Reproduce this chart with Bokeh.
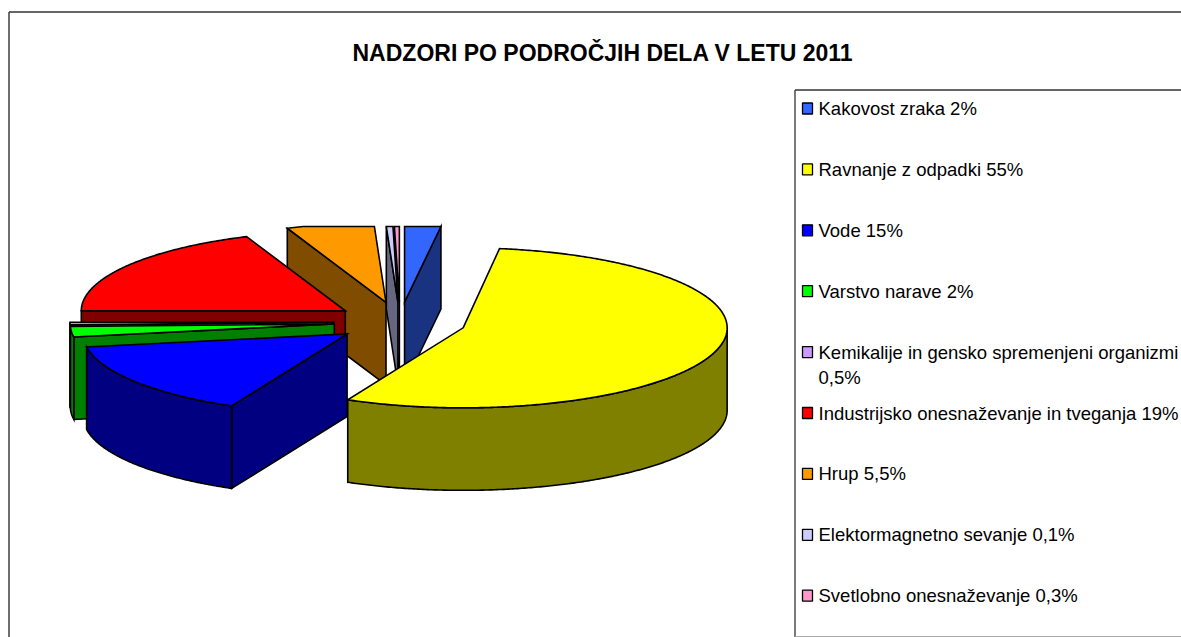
import numpy as np
from bokeh.plotting import figure
from bokeh.models import Range1d
from bokeh.core.properties import value
from bokeh.embed import file_html
from bokeh.resources import INLINE

TITLE = "NADZORI PO PODROČJIH DELA V LETU 2011"
categories = ["Kakovost zraka", "Ravnanje z odpadki", "Vode", "Varstvo narave",
              "Kemikalije in gensko spremenjeni organizmi", "Industrijsko onesnaževanje in tveganja",
              "Hrup", "Elektormagnetno sevanje", "Svetlobno onesnaževanje"]
# slice shares as they are drawn in the picture
shares = [2.2, 55.0, 15.2, 2.1, 0.5, 18.9, 5.4, 0.4, 0.3]
legend_lines = [["Kakovost zraka 2%"], ["Ravnanje z odpadki 55%"], ["Vode 15%"], ["Varstvo narave 2%"],
                ["Kemikalije in gensko spremenjeni organizmi", "0,5%"],
                ["Industrijsko onesnaževanje in tveganja 19%"], ["Hrup 5,5%"],
                ["Elektormagnetno sevanje 0,1%"], ["Svetlobno onesnaževanje 0,3%"]]
top_colors = ["#3366FF", "#FFFF00", "#0000FF", "#00FF00", "#CC99FF", "#FF0000", "#FF9900", "#CCCCFF", "#FF99CC"]
wall_colors = ["#1A3380", "#808000", "#000080", "#008000", "#664D80", "#800000", "#804D00", "#666680", "#804D66"]

W, H = 1181, 637
CX, CY, RX, RY, DEPTH, EXPLODE, CLIP_TOP = 399.5, 321.5, 264.0, 80.0, 82.5, 0.25, 226.0

p = figure(width=W, height=H, x_range=Range1d(0, W), y_range=Range1d(H, 0),
           output_backend="svg", toolbar_location=None, min_border=0)
p.axis.visible = False
p.grid.visible = False
p.outline_line_color = None
p.background_fill_color = "white"
p.border_fill_color = "white"

# chart frame and legend frame (both run past the edge of the window)
p.line([8.5, 8.5], [637, 11.5], line_color="#333333", line_width=1.4)
p.line([8.5, 1181], [11.5, 11.5], line_color="#333333", line_width=1.4)
p.line([794.5, 794.5], [89.5, 637], line_color="#333333", line_width=1.3)
p.line([1181, 794.5], [89.5, 89.5], line_color="#333333", line_width=1.3)
p.line([794.5, 1181], [636, 636], line_color="#aaaaaa", line_width=1)

# 3-D exploded pie, computed from shares
total = sum(shares)
edges = np.cumsum([0.0] + shares) / total * 360.0
slices = []
for i in range(len(shares)):
    a0, a1 = edges[i], edges[i + 1]
    mid = np.radians((a0 + a1) / 2)
    ox = CX + EXPLODE * RX * np.sin(mid)
    oy = CY - EXPLODE * RY * np.cos(mid)
    slices.append((oy, i, a0, a1, ox))

xs, ys, fills = [], [], []
def add(x, y, c):
    xs.append(list(x)); ys.append(list(y)); fills.append(c)

def ring(ox, oy, th):
    t = np.radians(th)
    return ox + RX * np.sin(t), np.maximum(oy - RY * np.cos(t), CLIP_TOP)

for oy, i, a0, a1, ox in sorted(slices):
    th = np.linspace(a0, a1, max(3, int((a1 - a0) * 2)))
    ax, ay = ring(ox, oy, th)
    # radial walls that face the viewer
    if 180.0 < a0 < 360.0:
        add([ox, ax[0], ax[0], ox], [oy, ay[0], ay[0] + DEPTH, oy + DEPTH], wall_colors[i])
    if 0.0 < a1 < 180.0:
        add([ox, ax[-1], ax[-1], ox], [oy, ay[-1], ay[-1] + DEPTH, oy + DEPTH], wall_colors[i])
    # rim facing the viewer
    lo, hi = max(a0, 90.0), min(a1, 270.0)
    if hi > lo:
        t2 = np.linspace(lo, hi, max(3, int((hi - lo) * 2)))
        bx, by = ring(ox, oy, t2)
        add(np.r_[bx, bx[::-1]], np.r_[by, by[::-1] + DEPTH], wall_colors[i])
    # top face
    add(np.r_[ox, ax], np.r_[oy, ay], top_colors[i])

p.patches(xs, ys, fill_color=fills, line_color="black", line_width=1.6, line_join="miter")

# title
p.text([602.5], [52], text=[TITLE], text_font=value("Liberation Sans"), text_font_style="bold",
       text_font_size="23px", text_align="center", text_baseline="middle", text_color="black")

# legend
LEG_Y0, LEG_STEP = 108.0, 60.9
rows = LEG_Y0 + LEG_STEP * np.arange(len(categories))
p.quad(left=[802.0] * len(rows), right=[812.0] * len(rows), top=rows - 5.5, bottom=rows + 5.5,
       fill_color=top_colors, line_color="black", line_width=1.3)
tx, ty, tt = [], [], []
for r, lines in zip(rows, legend_lines):
    for j, line in enumerate(lines):
        tx.append(818.0); ty.append(r + j * 25); tt.append(line)
p.text(tx, ty, text=tt, text_font=value("Liberation Sans"), text_font_size="18.5px",
       text_align="left", text_baseline="middle", text_color="black")

open("out.html", "w").write(file_html(p, INLINE))
